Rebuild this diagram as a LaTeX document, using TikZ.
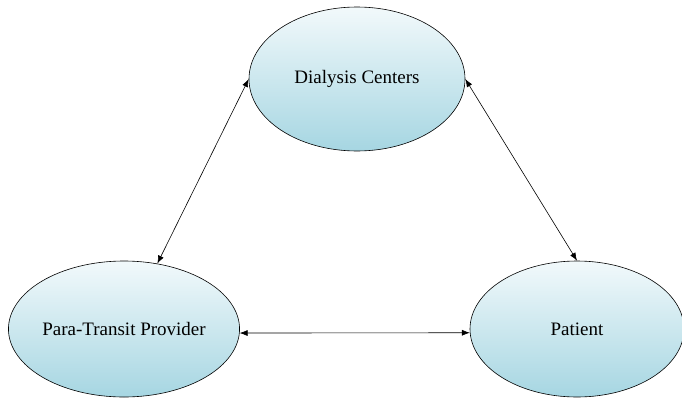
\documentclass[tikz,border=0pt]{standalone}
\usepackage{fontspec}
\setmainfont{Liberation Serif}
\usetikzlibrary{arrows.meta,shapes.geometric}

\begin{document}
\begin{tikzpicture}[
        x=1pt, y=-1pt,
        party/.style={ellipse, draw, line width=0.6pt, inner sep=0pt,
                      top color={rgb,255:red,242;green,249;blue,251},
                      bottom color={rgb,255:red,166;green,214;blue,226},
                      font=\fontsize{19}{22}\selectfont},
        link/.style={{Latex[length=8pt,width=6pt]}-{Latex[length=8pt,width=6pt]}, line width=0.6pt}
      ]
      \useasboundingbox (0,0) rectangle (682,407);
      \node[party, minimum width=216pt, minimum height=144pt] (dc) at (357,79) {Dialysis Centers};
      \node[party, minimum width=222pt, minimum height=136pt] (ptp) at (124,329) {Para-Transit Provider};
      \node[party, minimum width=214pt, minimum height=136pt] (pat) at (577,329) {Patient};

      \draw[link] (dc.west) -- (ptp.63);
      \draw[link] (dc.east) -- (pat.north);
      \draw[link] (ptp.-2.5) -- (pat.182.5);
    \end{tikzpicture}
\end{document}
